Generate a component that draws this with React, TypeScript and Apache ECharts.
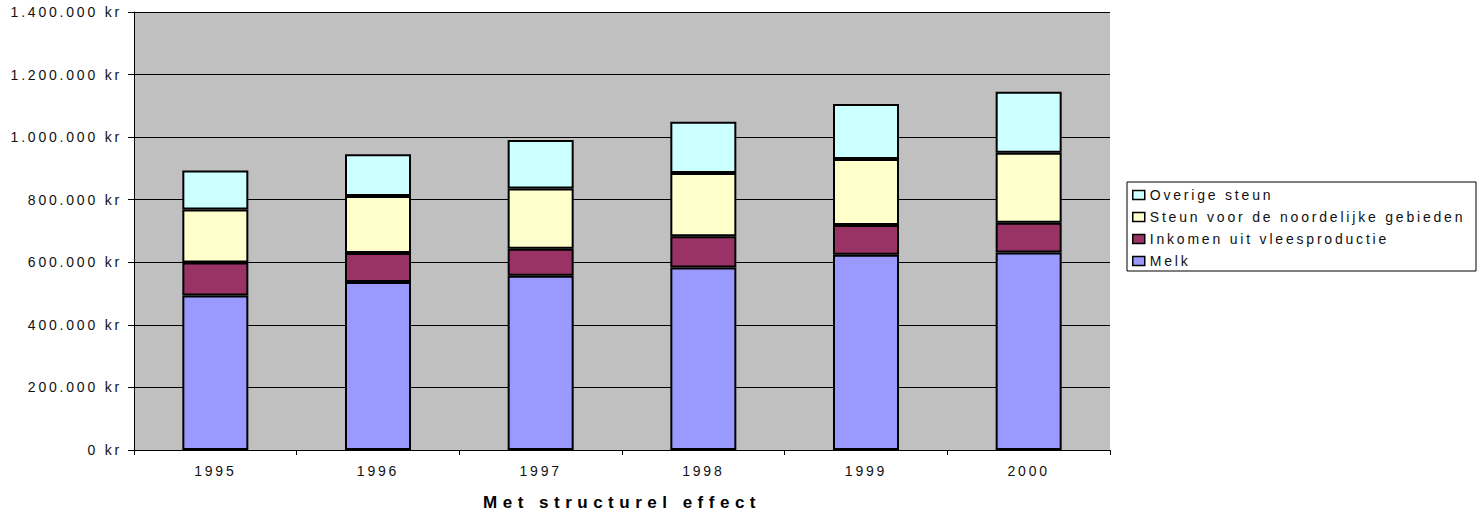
import React, { useEffect, useRef } from "react";
import * as echarts from "echarts";

const years = ["1995", "1996", "1997", "1998", "1999", "2000"];
const melk = [494000, 537000, 557000, 583000, 624000, 631000];
const inkomen = [105000, 93000, 86000, 100000, 95000, 95000];
const steun = [170000, 182000, 193000, 202000, 211000, 224000];
const overige = [124000, 133000, 155000, 164000, 176000, 195000];

const seriesNames = [
  "Melk",
  "Inkomen uit vleesproductie",
  "Steun voor de noordelijke gebieden",
  "Overige steun",
];
const seriesColors = ["#9999FF", "#993366", "#FFFFCC", "#CCFFFF"];
const legendOrder = [
  "Overige steun",
  "Steun voor de noordelijke gebieden",
  "Inkomen uit vleesproductie",
  "Melk",
];
const titleText = "Met structurel effect";

const FONT = "'Liberation Sans', Arial, sans-serif";

function fmt(v: number): string {
  return String(v).replace(/\B(?=(\d{3})+(?!\d))/g, ".") + " kr";
}

export default function App() {
  const ref = useRef<HTMLDivElement>(null);

  useEffect(() => {
    if (!ref.current) return;
    const chart = echarts.init(ref.current, undefined, { renderer: "svg" });
    const dataSets = [melk, inkomen, steun, overige];
    chart.setOption({
      animation: false,
      backgroundColor: "#ffffff",
      textStyle: { fontFamily: FONT },
      grid: {
        left: 134,
        right: 374,
        top: 12,
        bottom: 68,
        show: true,
        backgroundColor: "#C0C0C0",
        borderWidth: 0,
      },
      legend: {
        orient: "vertical",
        left: 1132,
        top: 188,
        padding: 0,
        itemWidth: 12,
        itemHeight: 9,
        itemGap: 8,
        icon: "rect",
        data: legendOrder,
        itemStyle: { borderColor: "#000", borderWidth: 1.5 },
        textStyle: { fontSize: 14, lineHeight: 14, color: "#111", fontFamily: FONT },
      },
      xAxis: {
        type: "category",
        data: years,
        boundaryGap: true,
        axisLine: { lineStyle: { color: "#000", width: 1 } },
        axisTick: { show: true, length: 5, lineStyle: { color: "#000" } },
        axisLabel: { color: "#111", fontSize: 14, margin: 14, fontFamily: FONT },
        splitLine: { show: false },
      },
      yAxis: {
        type: "value",
        min: 0,
        max: 1400000,
        interval: 200000,
        axisLine: { show: true, lineStyle: { color: "#000", width: 1 } },
        axisTick: { show: true, length: 6, lineStyle: { color: "#000" } },
        axisLabel: {
          color: "#111",
          fontSize: 14,
          margin: 12,
          fontFamily: FONT,
          formatter: (v: number) => fmt(v),
        },
        splitLine: { show: true, lineStyle: { color: "#000", width: 1 } },
      },
      series: seriesNames.map((name, i) => ({
        name,
        type: "bar",
        stack: "total",
        barWidth: 66,
        data: dataSets[i],
        itemStyle: {
          color: seriesColors[i],
          borderColor: "#000",
          borderWidth: 2,
        },
      })),
      graphic: [
        {
          type: "rect",
          shape: { x: 1127, y: 182, width: 349, height: 89 },
          style: { fill: "none", stroke: "#000", lineWidth: 1 },
          silent: true,
        },
        {
          type: "text",
          x: 622,
          y: 502,
          style: {
            text: titleText,
            fill: "#000",
            font: `bold 17px ${FONT}`,
            align: "center",
            verticalAlign: "middle",
          },
        },
      ],
    });
    return () => chart.dispose();
  }, []);

  return (
    <>
      <style>{`
        #chartbox text { letter-spacing: 2.8px; }
        #chartbox text[style*="bold"] { letter-spacing: 5.5px; }
      `}</style>
      <div
        id="chartbox"
        ref={ref}
        style={{ position: "absolute", left: 0, top: 0, width: 1484, height: 518 }}
      />
    </>
  );
}
